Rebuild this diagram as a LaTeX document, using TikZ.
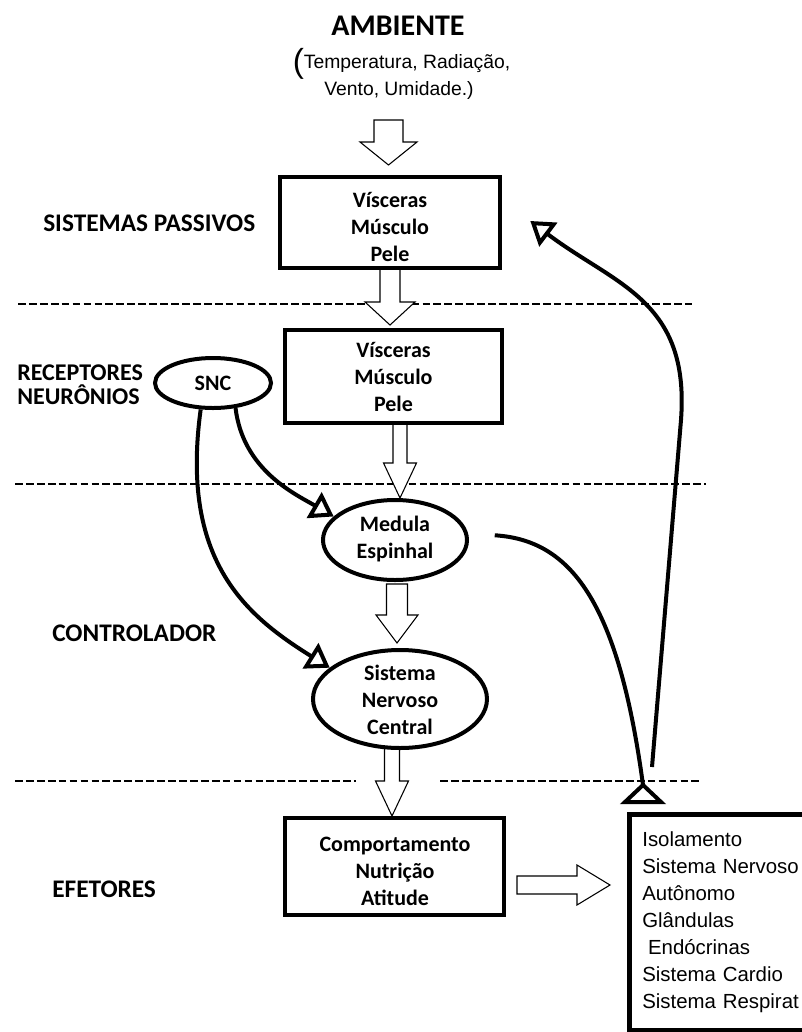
\documentclass[tikz,border=0pt]{standalone}
\usepackage{fontspec}
\setmainfont{Carlito}
\newfontfamily\arialf{Liberation Sans}
\usetikzlibrary{arrows.meta,shapes.geometric,calc}
\newcommand\DArrow[6]{\draw[blk] (#1-#5,#2) -- (#1+#5,#2) -- (#1+#5,#3) -- (#1+#6,#3) -- (#1,#4) -- (#1-#6,#3) -- (#1-#5,#3) -- cycle;}
\begin{document}
\begin{tikzpicture}[x=0.75pt,y=-0.75pt,
  lab/.style={font=\fontsize{19pt}{23pt}\selectfont\bfseries, anchor=base west, inner sep=0},
  labs/.style={font=\fontsize{18pt}{22pt}\selectfont\bfseries, anchor=base west, inner sep=0},
  btxt/.style={font=\fontsize{16.5pt}{20.25pt}\selectfont\bfseries, align=center, inner sep=0},
  pbox/.style={draw, line width=3.5pt, inner sep=0},
  pell/.style={draw, ellipse, line width=3pt, inner sep=0},
  blk/.style={draw, fill=white, line width=0.8pt, line join=miter},
  dline/.style={line width=2.2pt, dash pattern=on 5.8pt off 2.4pt},
  conn/.style={line width=3pt, -{Triangle[open, length=17pt, width=22pt]}},
  effbox/.style={draw, line width=3.5pt, anchor=north west, align=left, text width=127.5pt,
    inner xsep=9.75pt, inner ysep=0pt, minimum height=162pt,
    font=\arialf\fontsize{15.3pt}{20.25pt}\selectfont}
]
\useasboundingbox (0,0) rectangle (802,1032);
\fill[white] (0,0) rectangle (802,1032);
\clip (0,0) rectangle (802,1032);

% top texts
\node[font=\fontsize{22.5pt}{26pt}\selectfont\bfseries, anchor=base, inner sep=0] (amb) at (398,35) {AMBIENTE};
\node[font=\arialf\fontsize{14.5pt}{18pt}\selectfont, anchor=base, inner sep=0] (amb1) at (401.5,68) {\raisebox{-3.5pt}{\fontsize{25pt}{25pt}\selectfont(}Temperatura, Radiação,};
\node[font=\arialf\fontsize{14.5pt}{18pt}\selectfont, anchor=base, inner sep=0] (amb2) at (399,95) {Vento, Umidade.)};

% left labels
\node[lab] (sp) at (43,231) {SISTEMAS PASSIVOS};
\node[labs] (rec1) at (17,380) {RECEPTORES};
\node[labs] (rec2) at (17,404) {NEURÔNIOS};
\node[lab] (ctl) at (52,641) {CONTROLADOR};
\node[lab] (efe) at (52,897) {EFETORES};

% dashed separators
\draw[dline] (18,304) -- (692,304);
\draw[dline] (15,484) -- (706,484);
\draw[dline] (15,781) -- (356,781);
\draw[dline] (440,781) -- (700,781);

% hollow block arrows
\DArrow{388.5}{120}{142}{165}{14.5}{28.5}
\DArrow{390}{268}{302}{325}{10}{25}
\DArrow{400}{423}{463}{498}{7}{16.5}
\DArrow{397}{584}{615}{643}{10.5}{21}
\DArrow{392}{748}{781}{816}{7.5}{16.5}
\draw[blk] (517,876) -- (577,876) -- (577,865) -- (610,885) -- (577,905) -- (577,894) -- (517,894) -- cycle;

% boxes
\node[pbox, minimum width=165pt, minimum height=68.25pt] (b1) at (390,222.5) {};
\node[btxt] (b1t) at (390,227) {Vísceras\\Músculo\\Pele};
\node[pbox, minimum width=162.75pt, minimum height=69.75pt] (b2) at (393.5,376.5) {};
\node[btxt] (b2t) at (393.5,377) {Vísceras\\Músculo\\Pele};
\node[pbox, minimum width=164.25pt, minimum height=72.75pt] (b3) at (394.5,866.5) {};
\node[btxt] (b3t) at (395,871) {Comportamento\\Nutrição\\Atitude};

% ellipses
\node[pell, minimum width=87pt, minimum height=37.5pt] (snc) at (213,383) {};
\node[btxt] (snct) at (snc) {SNC};
\node[pell, minimum width=108pt, minimum height=60pt] (med) at (395,540) {};
\node[btxt] (medt) at (395,539) {Medula\\Espinhal};
\node[pell, minimum width=130.5pt, minimum height=73.5pt] (sncc) at (400,699) {};
\node[btxt] (sncct) at (400,700) {Sistema\\Nervoso\\Central};

% effectors box
\node[effbox] (eff) at (627,812) {Isolamento\\Sistema Nervoso\\Autônomo\\Glândulas\\\hspace*{0.28em}Endócrinas\\Sistema Cardio\\Sistema Respirat};

% connectors
\coordinate (jn) at (643,785);
\coordinate (jn2) at (652,767);
\draw[conn] (snc.-48) .. controls (243,470) and (295,494) .. (med.159);
\draw[conn] (snc.-115) .. controls (180,560) and (245,615) .. (sncc.156);
\draw[line width=3pt, shorten <=20pt] (med.5) .. controls (570,540) and (618,600) .. (jn);
\draw[conn] (jn2) -- (681,420) .. controls (690,300) and (615,285) .. ($(b1.east)+(28,-1.5)$);
\draw[line width=3pt, fill=white, line join=miter] (jn) -- ++(-18,17) -- ++(36,0) -- cycle;
\end{tikzpicture}
\end{document}
